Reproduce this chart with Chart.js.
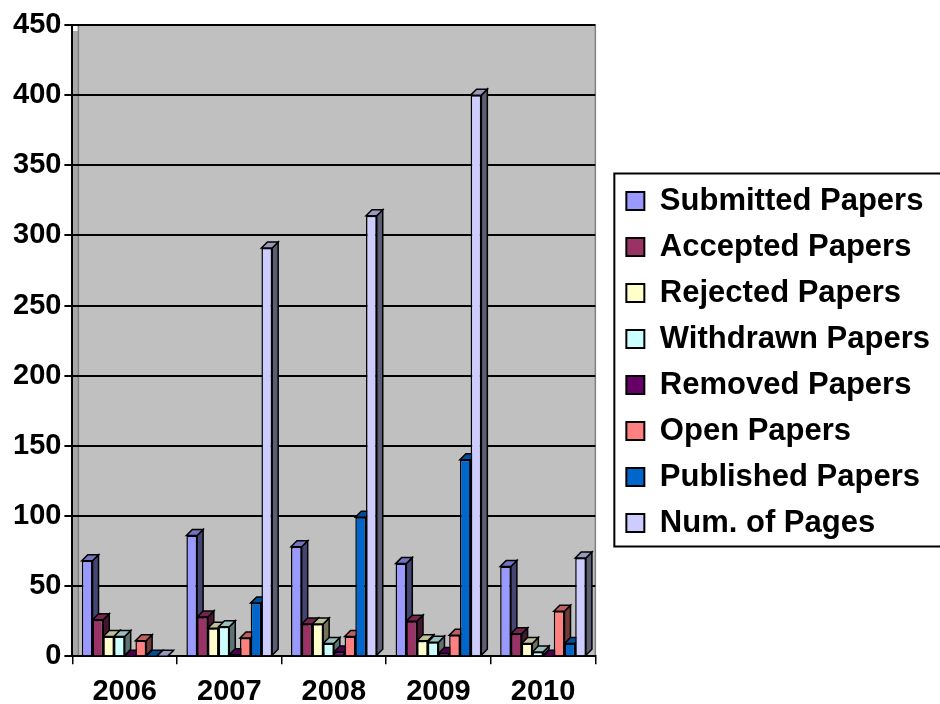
<!DOCTYPE html>
<html>
<head>
<meta charset="utf-8">
<script src="https://cdn.jsdelivr.net/npm/chart.js@4"></script>
<style>
  html, body { margin: 0; padding: 0; background: #fff; }
  #wrap { width: 940px; height: 704px; }
</style>
</head>
<body>
<div id="wrap"><canvas id="chart" width="940" height="704"></canvas></div>
<script>
// Datos
const years = ['2006', '2007', '2008', '2009', '2010'];
const submitted = [68, 86, 78, 66, 64];
const accepted = [26, 28, 23, 25, 16];
const rejected = [14, 20, 23, 11, 9];
const withdrawn = [14, 21, 9, 10, 3];
const removed = [0, 1, 3, 2, 0];
const openPapers = [11, 13, 14, 15, 32];
const published = [0, 38, 99, 140, 9];
const pages = [0, 291, 314, 400, 70];
const yTicks = [0, 50, 100, 150, 200, 250, 300, 350, 400, 450];

const seriesNames = ['Submitted Papers', 'Accepted Papers', 'Rejected Papers', 'Withdrawn Papers',
    'Removed Papers', 'Open Papers', 'Published Papers', 'Num. of Pages'];
const seriesValues = [submitted, accepted, rejected, withdrawn, removed, openPapers, published, pages];
const seriesColors = ['#9999FF', '#993366', '#FFFFCC', '#CCFFFF', '#660066', '#FF8080', '#0066CC', '#CCCCFF'];

const DEPTH = 6;
const FONT = "'Liberation Sans', Arial, sans-serif";
const LEGEND_EXTRA = 16; // ancho extra de la leyenda
const LEGEND_SHIFT = 16; // desplazamiento horizontal de la leyenda
const LEGEND_LIFT = -10; // desplazamiento vertical de la leyenda

function darken(hex, f) {
    const n = parseInt(hex.slice(1), 16);
    const r = Math.round(((n >> 16) & 255) * f);
    const g = Math.round(((n >> 8) & 255) * f);
    const b = Math.round((n & 255) * f);
    return `rgb(${r},${g},${b})`;
}

// fondo gris del área del gráfico
const wallPlugin = {
    id: 'wall',
    beforeDraw(chart) {
        const { ctx, chartArea: a } = chart;
        ctx.save();
        ctx.fillStyle = '#C0C0C0';
        ctx.fillRect(a.left + DEPTH, a.top, a.right - a.left - DEPTH, a.bottom - a.top);
        ctx.fillStyle = '#A8A8A8';
        ctx.fillRect(a.left, a.top + DEPTH, DEPTH, a.bottom - a.top - DEPTH);
        ctx.strokeStyle = '#808080';
        ctx.lineWidth = 1.5;
        ctx.strokeRect(a.left + DEPTH, a.top, a.right - a.left - DEPTH, a.bottom - a.top);
        ctx.restore();
    }
};

// caras laterales y superiores de las barras (efecto 3D)
const depthPlugin = {
    id: 'depth',
    beforeDatasetsDraw(chart) {
        const ctx = chart.ctx;
        ctx.save();
        ctx.lineWidth = 1.5;
        ctx.strokeStyle = '#000';
        chart.data.datasets.forEach((ds, i) => {
            const meta = chart.getDatasetMeta(i);
            meta.data.forEach(bar => {
                const l = bar.x - bar.width / 2, r = bar.x + bar.width / 2;
                const t = bar.y, b = bar.base;
                ctx.fillStyle = darken(seriesColors[i], 0.45);
                ctx.beginPath();
                ctx.moveTo(r, t); ctx.lineTo(r + DEPTH, t - DEPTH);
                ctx.lineTo(r + DEPTH, b - DEPTH); ctx.lineTo(r, b);
                ctx.closePath(); ctx.fill(); ctx.stroke();
                ctx.fillStyle = darken(seriesColors[i], 0.75);
                ctx.beginPath();
                ctx.moveTo(l, t); ctx.lineTo(l + DEPTH, t - DEPTH);
                ctx.lineTo(r + DEPTH, t - DEPTH); ctx.lineTo(r, t);
                ctx.closePath(); ctx.fill(); ctx.stroke();
            });
        });
        ctx.restore();
    }
};

// ensancha la leyenda, desplaza sus elementos y dibuja su marco
const legendBoxPlugin = {
    id: 'legendBox',
    beforeInit(chart) {
        const lg = chart.legend;
        const origFit = lg.fit;
        lg.fit = function () {
            origFit.call(this);
            this.width += LEGEND_EXTRA;
        };
        const origDraw = lg.draw;
        lg.draw = function () {
            this.ctx.save();
            this.ctx.translate(LEGEND_SHIFT, LEGEND_LIFT);
            origDraw.call(this);
            this.ctx.restore();
        };
    },
    afterDraw(chart) {
        const boxes = chart.legend.legendHitBoxes;
        if (!boxes || !boxes.length) return;
        const top = boxes[0].top + LEGEND_LIFT;
        const bottom = boxes[boxes.length - 1].top + boxes[boxes.length - 1].height + LEGEND_LIFT;
        const left = Math.min(...boxes.map(b => b.left)) + LEGEND_SHIFT;
        const ctx = chart.ctx;
        ctx.save();
        ctx.strokeStyle = '#000';
        ctx.lineWidth = 2;
        ctx.strokeRect(left - 12, top - 12, 940 - (left - 12) + 5, bottom - top + 20);
        ctx.restore();
    }
};

const ctx = document.getElementById('chart').getContext('2d');
new Chart(ctx, {
    type: 'bar',
    data: {
        labels: years,
        datasets: seriesNames.map((name, i) => ({
            label: name,
            data: seriesValues[i],
            backgroundColor: seriesColors[i],
            borderColor: '#000',
            borderWidth: 1.5,
            barPercentage: 1,
            categoryPercentage: 0.82
        }))
    },
    options: {
        responsive: false,
        animation: false,
        devicePixelRatio: 1,
        layout: { padding: { top: 25, left: 10, right: 0, bottom: -15 } },
        plugins: {
            legend: {
                position: 'right',
                maxWidth: 420,
                labels: {
                    color: '#000',
                    font: { family: FONT, size: 31, weight: 'bold' },
                    boxWidth: 18,
                    boxHeight: 18,
                    padding: 15,
                    generateLabels(chart) {
                        return chart.data.datasets.map((ds, i) => ({
                            text: ds.label,
                            fillStyle: seriesColors[i],
                            strokeStyle: '#000',
                            lineWidth: 2,
                            datasetIndex: i
                        }));
                    }
                }
            },
            tooltip: { enabled: false }
        },
        scales: {
            x: {
                grid: { offset: true, drawOnChartArea: false, color: '#000', tickLength: 8, lineWidth: 1.5 },
                border: { color: '#000', width: 2 },
                ticks: { color: '#000', font: { family: FONT, size: 29, weight: 'bold' }, padding: 10 }
            },
            y: {
                min: 0,
                max: 450,
                afterBuildTicks(axis) {
                    axis.ticks = yTicks.map(v => ({ value: v }));
                },
                grid: { color: '#000', lineWidth: 2, tickLength: 8 },
                border: { color: '#000', width: 2 },
                ticks: { color: '#000', font: { family: FONT, size: 29, weight: 'bold' }, padding: 3 }
            }
        }
    },
    plugins: [wallPlugin, depthPlugin, legendBoxPlugin]
});
</script>
</body>
</html>
